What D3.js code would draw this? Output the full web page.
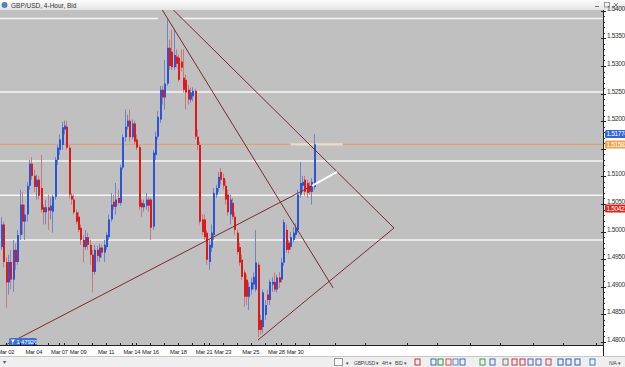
<!DOCTYPE html>
<html>
<head>
<meta charset="utf-8">
<script src="https://cdn.jsdelivr.net/npm/d3@7"></script>
<style>
html, body { margin: 0; padding: 0; background: #fff; overflow: hidden; }
svg { display: block; font-family: "Liberation Sans", Arial, sans-serif; }
</style>
</head>
<body>
<svg id="chart" width="625" height="367"></svg>
<script>
// GBP/USD 4-hour candles, [open, high, low, close]
const ohlc = [
  [1.4972,1.5026,1.4967,1.5013],[1.5013,1.5018,1.4935,1.4945],[1.4945,1.4953,1.4862,1.4908],[1.4908,1.4958,1.4886,1.4945],
  [1.4945,1.4967,1.4895,1.4913],[1.4913,1.4985,1.4891,1.4967],[1.4967,1.4978,1.4931,1.4945],[1.4945,1.5003,1.4940,1.4994],
  [1.4994,1.5076,1.4985,1.5049],[1.5049,1.5072,1.4994,1.5018],[1.5018,1.5049,1.4985,1.5031],[1.5031,1.5090,1.5018,1.5083],
  [1.5083,1.5130,1.5076,1.5123],[1.5123,1.5135,1.5094,1.5101],[1.5101,1.5112,1.5072,1.5081],[1.5081,1.5103,1.5058,1.5094],
  [1.5094,1.5101,1.5058,1.5065],[1.5079,1.5139,1.5035,1.5040],[1.5044,1.5049,1.5013,1.5035],[1.5035,1.5058,1.5013,1.5044],
  [1.5044,1.5067,1.5003,1.5038],[1.5038,1.5063,1.5022,1.5047],[1.5036,1.5067,1.4998,1.5063],[1.5063,1.5135,1.5058,1.5130],
  [1.5130,1.5157,1.5121,1.5152],[1.5148,1.5176,1.5139,1.5167],[1.5157,1.5199,1.5148,1.5189],[1.5185,1.5201,1.5176,1.5192],
  [1.5190,1.5201,1.5148,1.5152],[1.5152,1.5157,1.5060,1.5067],[1.5065,1.5070,1.5049,1.5058],[1.5058,1.5067,1.5031,1.5035],
  [1.5035,1.5040,1.5013,1.5018],[1.5027,1.5036,1.4999,1.5003],[1.5007,1.5013,1.4976,1.4985],[1.4985,1.4994,1.4944,1.4972],
  [1.4972,1.5003,1.4967,1.4990],[1.4990,1.4998,1.4967,1.4976],[1.4976,1.4985,1.4940,1.4958],[1.4958,1.4967,1.4890,1.4927],
  [1.4927,1.4976,1.4922,1.4967],[1.4967,1.4974,1.4945,1.4956],[1.4953,1.4978,1.4945,1.4971],[1.4971,1.4976,1.4953,1.4962],
  [1.4962,1.4985,1.4945,1.4976],[1.4972,1.4999,1.4967,1.4994],[1.4990,1.5031,1.4985,1.5022],[1.5022,1.5070,1.5018,1.5049],
  [1.5054,1.5067,1.5040,1.5045],[1.5045,1.5088,1.5031,1.5058],[1.5061,1.5076,1.5049,1.5052],[1.5052,1.5121,1.5047,1.5116],
  [1.5116,1.5176,1.5112,1.5171],[1.5171,1.5221,1.5163,1.5190],[1.5190,1.5212,1.5185,1.5201],[1.5201,1.5221,1.5163,1.5171],
  [1.5171,1.5203,1.5167,1.5196],[1.5196,1.5201,1.5158,1.5163],[1.5167,1.5176,1.5148,1.5152],[1.5153,1.5157,1.5040,1.5045],
  [1.5052,1.5058,1.5027,1.5044],[1.5044,1.5058,1.5036,1.5051],[1.5047,1.5070,1.5040,1.5058],[1.5058,1.5063,1.5036,1.5047],
  [1.5058,1.5061,1.4985,1.5007],[1.5009,1.5148,1.5003,1.5143],[1.5139,1.5181,1.5130,1.5172],[1.5172,1.5218,1.5167,1.5208],
  [1.5203,1.5264,1.5197,1.5257],[1.5257,1.5264,1.5230,1.5243],[1.5243,1.5311,1.5221,1.5268],[1.5268,1.5384,1.5264,1.5333],
  [1.5333,1.5348,1.5293,1.5300],[1.5326,1.5366,1.5293,1.5298],[1.5298,1.5366,1.5293,1.5320],[1.5317,1.5330,1.5297,1.5304],
  [1.5315,1.5321,1.5271,1.5275],[1.5308,1.5330,1.5290,1.5297],[1.5279,1.5330,1.5252,1.5257],[1.5275,1.5284,1.5221,1.5252],
  [1.5257,1.5266,1.5230,1.5239],[1.5239,1.5261,1.5234,1.5252],[1.5245,1.5261,1.5236,1.5255],[1.5255,1.5259,1.5167,1.5172],
  [1.5172,1.5185,1.5148,1.5157],[1.5157,1.5163,1.5013,1.5018],[1.5022,1.5031,1.4994,1.4999],[1.5022,1.5031,1.4985,1.4990],
  [1.4998,1.5003,1.4940,1.4949],[1.4945,1.4985,1.4931,1.4976],[1.4971,1.5013,1.4963,1.4998],[1.4994,1.5079,1.4985,1.5070],
  [1.5067,1.5085,1.5061,1.5079],[1.5079,1.5108,1.5072,1.5099],[1.5108,1.5115,1.5085,1.5094],[1.5097,1.5105,1.5076,1.5083],
  [1.5083,1.5094,1.5049,1.5058],[1.5067,1.5076,1.5029,1.5035],[1.5031,1.5067,1.5013,1.5058],[1.5052,1.5061,1.5022,1.5027],
  [1.5027,1.5035,1.4994,1.5003],[1.4998,1.5003,1.4958,1.4963],[1.4972,1.4980,1.4938,1.4944],[1.4949,1.4958,1.4913,1.4918],
  [1.4926,1.4931,1.4864,1.4882],[1.4913,1.4922,1.4867,1.4882],[1.4882,1.4909,1.4858,1.4900],[1.4895,1.4917,1.4886,1.4908],
  [1.4904,1.4926,1.4895,1.4918],[1.4895,1.5003,1.4891,1.4944],[1.4940,1.4945,1.4809,1.4822],[1.4840,1.4849,1.4813,1.4822],
  [1.4827,1.4895,1.4816,1.4890],[1.4849,1.4876,1.4840,1.4867],[1.4886,1.4895,1.4867,1.4876],[1.4876,1.4913,1.4867,1.4909],
  [1.4904,1.4917,1.4891,1.4909],[1.4909,1.4926,1.4891,1.4895],[1.4895,1.4922,1.4890,1.4917],[1.4917,1.4927,1.4898,1.4908],
  [1.4913,1.4953,1.4908,1.4944],[1.4944,1.5022,1.4938,1.5017],[1.5003,1.5013,1.4962,1.4967],[1.4980,1.4985,1.4960,1.4967],
  [1.4972,1.4999,1.4967,1.4990],[1.4985,1.5008,1.4980,1.4998],[1.4994,1.5015,1.4989,1.5007],[1.5003,1.5076,1.4998,1.5067],
  [1.5067,1.5126,1.5061,1.5088],[1.5083,1.5101,1.5072,1.5090],[1.5094,1.5101,1.5065,1.5072],[1.5088,1.5094,1.5061,1.5070],
  [1.5083,1.5090,1.5067,1.5072],[1.5072,1.5097,1.5049,1.5090],[1.5081,1.5177,1.5076,1.5158]
];

// time axis (candle index of each day start)
const dayLabels = ["Mar 02","Mar 04","Mar 07","Mar 09","Mar 11","Mar 14","Mar 16","Mar 18","Mar 21","Mar 23","Mar 25","Mar 28","Mar 30"];
const dayLabelIdx = [2,14,25,33,45,56,64,76,87,95,107,118,126];
const dayTickIdx = [2,8,14,20,25,27,33,39,45,51,56,58,64,70,76,82,87,89,95,101,107,113,118,120,126,132,143,156,174,187,201,214,228,241,255];

// price axis (1.515 sits under the bid tag)
const priceTicks = [1.480,1.485,1.490,1.495,1.500,1.505,1.510,1.515,1.520,1.525,1.530,1.535,1.540];
const hiddenLabels = [1.515];

// horizontal levels (white), [price, fromIdx, toIdx]
const levels = [[1.5386,-1,67.2],[1.5386,77.5,260],[1.5253,-1,260],[1.5128,-1,260],[1.5066,-1,260],[1.4985,-1,260]];
const bidPrice = 1.5158;

// trend lines [[idx, price], [idx, price]]
const trendLines = [
  [[0.79,1.4792],[133.25,1.5083]],
  [[66.4,1.5420],[142.3,1.4898]],
  [[69.4,1.5420],[168.4,1.50065]],
  [[110.1,1.48036],[168.4,1.50065]]
];
const whiteSegment = [[133.25,1.5083],[143.97,1.5108]];
const bidSegment = [[124.1,1.5158],[146.4,1.5158]];

const priceTags = [
  { text: "1.51774", value: 1.5177, color: "#3064d8" },
  { text: "1.51582", value: 1.5158, color: "#f2a24a" },
  { text: "1.50421", value: 1.5042, color: "#e3211c" }
];

const W = 625, H = 367;
const plot = { left: 0, right: 603, top: 10, bottom: 345 };

const svg = d3.select("#chart");

const x = d3.scaleLinear().domain([-0.5, 258]).range([plot.left, plot.right]);
const y = d3.scaleLinear().domain([1.48, 1.54]).range([342, 10.8]);

const defs = svg.append("defs");
defs.append("clipPath").attr("id", "plotClip")
  .append("rect").attr("x", plot.left).attr("y", plot.top)
  .attr("width", plot.right - plot.left).attr("height", plot.bottom - plot.top);

// title bar
const tg = defs.append("linearGradient").attr("id", "titleGrad")
  .attr("x1", 0).attr("x2", 0).attr("y1", 0).attr("y2", 1);
tg.append("stop").attr("offset", "0%").attr("stop-color", "#fdfdfd");
tg.append("stop").attr("offset", "100%").attr("stop-color", "#e4e4e4");
svg.append("rect").attr("x", 0).attr("y", 0).attr("width", W).attr("height", plot.top).attr("fill", "url(#titleGrad)");
svg.append("circle").attr("cx", 4.5).attr("cy", 5).attr("r", 3).attr("fill", "#5a7fb8");
svg.append("text").attr("x", 11).attr("y", 7.5).attr("font-size", 6.5).attr("fill", "#333")
  .text("GBP/USD, 4-Hour, Bid");
svg.append("line").attr("x1", 595).attr("x2", 599).attr("y1", 6.5).attr("y2", 6.5).attr("stroke", "#777");
svg.append("rect").attr("x", 604.5).attr("y", 2.5).attr("width", 5).attr("height", 4.5).attr("fill", "none").attr("stroke", "#888").attr("stroke-width", 0.8);
svg.append("path").attr("d", "M614,3 l4,4 M618,3 l-4,4").attr("stroke", "#777").attr("stroke-width", 0.9);

// plot background
svg.append("rect").attr("x", plot.left).attr("y", plot.top)
  .attr("width", plot.right - plot.left).attr("height", plot.bottom - plot.top)
  .attr("fill", "#c0c0c0");

const g = svg.append("g").attr("clip-path", "url(#plotClip)");

// horizontal levels
g.selectAll(".level").data(levels).enter().append("line")
  .attr("x1", d => x(d[1])).attr("x2", d => x(d[2]))
  .attr("y1", d => y(d[0])).attr("y2", d => y(d[0]))
  .attr("stroke", "#f6f6f6").attr("stroke-width", 1.5);

// bid line
g.append("line").attr("x1", plot.left).attr("x2", plot.right)
  .attr("y1", y(bidPrice)).attr("y2", y(bidPrice))
  .attr("stroke", "#e0a060").attr("stroke-width", 1);
g.append("line")
  .attr("x1", x(bidSegment[0][0])).attr("x2", x(bidSegment[1][0]))
  .attr("y1", y(bidSegment[0][1])).attr("y2", y(bidSegment[1][1]))
  .attr("stroke", "#ecdcc6").attr("stroke-width", 2.2);

// candles
const blue = "#2a55d8", red = "#dd1a1a";
const cg = g.append("g");
cg.selectAll(".wick").data(ohlc).enter().append("line")
  .attr("x1", (d, i) => Math.round(x(i)) + 0.5).attr("x2", (d, i) => Math.round(x(i)) + 0.5)
  .attr("y1", d => y(d[1])).attr("y2", d => y(d[2]))
  .attr("stroke", d => d[3] >= d[0] ? "#6f86c8" : "#c87a7a").attr("stroke-width", 1);
cg.selectAll(".body").data(ohlc).enter().append("rect")
  .attr("x", (d, i) => Math.round(x(i)))
  .attr("width", 2)
  .attr("y", d => y(Math.max(d[0], d[3])))
  .attr("height", d => Math.max(1, Math.abs(y(d[0]) - y(d[3]))))
  .attr("fill", d => d[3] >= d[0] ? blue : red);

// trend lines
g.selectAll(".trend").data(trendLines).enter().append("line")
  .attr("x1", d => x(d[0][0])).attr("y1", d => y(d[0][1]))
  .attr("x2", d => x(d[1][0])).attr("y2", d => y(d[1][1]))
  .attr("stroke", "#7d2a2e").attr("stroke-width", 1);
g.append("line")
  .attr("x1", x(whiteSegment[0][0])).attr("y1", y(whiteSegment[0][1]))
  .attr("x2", x(whiteSegment[1][0])).attr("y2", y(whiteSegment[1][1]))
  .attr("stroke", "#ffffff").attr("stroke-width", 2);

// right price axis
svg.append("rect").attr("x", plot.right).attr("y", plot.top).attr("width", W - plot.right).attr("height", H - plot.top).attr("fill", "#fff");
const ax = svg.append("g");
ax.append("line").attr("x1", plot.right + 0.5).attr("x2", plot.right + 0.5)
  .attr("y1", plot.top).attr("y2", H).attr("stroke", "#222");
ax.selectAll(".minor").data(d3.range(1.480, 1.5405, 0.001)).enter().append("line")
  .attr("x1", plot.right).attr("x2", plot.right + 2)
  .attr("y1", d => Math.round(y(d)) + 0.5).attr("y2", d => Math.round(y(d)) + 0.5)
  .attr("stroke", "#333");
ax.selectAll(".major").data(priceTicks).enter().append("line")
  .attr("x1", plot.right - 2).attr("x2", plot.right + 3)
  .attr("y1", d => Math.round(y(d)) + 0.5).attr("y2", d => Math.round(y(d)) + 0.5)
  .attr("stroke", "#222");
ax.selectAll(".plabel").data(priceTicks.filter(d => !hiddenLabels.includes(d))).enter().append("text")
  .attr("x", plot.right + 4).attr("y", d => y(d))
  .attr("font-size", 6.5).attr("letter-spacing", -0.35).attr("fill", "#333")
  .text(d => d.toFixed(5));

// price tags
const tags = svg.selectAll(".tag").data(priceTags).enter().append("g");
tags.append("rect").attr("x", plot.right + 2).attr("y", d => y(d.value) - 4)
  .attr("width", 24).attr("height", 8).attr("rx", 1.5).attr("fill", d => d.color);
tags.append("text").attr("x", plot.right + 3.5).attr("y", d => y(d.value) + 2.4)
  .attr("font-size", 6.5).attr("letter-spacing", -0.35).attr("fill", "#fff").text(d => d.text);

// trend line start tag
const st = trendLines[0][0];
const startTag = svg.append("g");
startTag.append("rect").attr("x", x(st[0]) + 6).attr("y", y(st[1]) - 8.5)
  .attr("width", 28).attr("height", 8).attr("rx", 1.5).attr("fill", "#3a70d8");
startTag.append("text").attr("x", x(st[0]) + 13.5).attr("y", y(st[1]) - 2.3)
  .attr("font-size", 6).attr("letter-spacing", -0.2).attr("fill", "#fff").text(st[1].toFixed(5));
startTag.append("path").attr("d", `M${x(st[0]) + 8},${y(st[1]) - 7} h4 l-2,3 v2 h-0.5 v-2 z`).attr("fill", "#fff");

// bottom time axis
svg.append("rect").attr("x", 0).attr("y", plot.bottom).attr("width", plot.right).attr("height", 11).attr("fill", "#fff");
svg.append("line").attr("x1", 0).attr("x2", plot.right).attr("y1", plot.bottom + 0.5).attr("y2", plot.bottom + 0.5).attr("stroke", "#222");
svg.selectAll(".xtick").data(dayTickIdx).enter().append("line")
  .attr("x1", d => Math.round(x(d)) + 0.5).attr("x2", d => Math.round(x(d)) + 0.5)
  .attr("y1", plot.bottom - 2).attr("y2", plot.bottom + 1)
  .attr("stroke", "#222");
svg.selectAll(".xlabel").data(dayLabels).enter().append("text")
  .attr("x", (d, i) => x(dayLabelIdx[i])).attr("y", plot.bottom + 8.5)
  .attr("text-anchor", "middle").attr("font-size", 5.8).attr("letter-spacing", -0.2).attr("fill", "#222")
  .text(d => d);

// toolbar
const tb = svg.append("g");
tb.append("rect").attr("x", 0).attr("y", 356).attr("width", W).attr("height", 11).attr("fill", "#efefef");
tb.append("line").attr("x1", 0).attr("x2", W).attr("y1", 356.5).attr("y2", 356.5).attr("stroke", "#c8c8c8");
tb.append("text").attr("x", 3).attr("y", 364).attr("font-size", 5.5).attr("fill", "#555").text("▾");
tb.append("rect").attr("x", 334.5).attr("y", 358.5).attr("width", 8).attr("height", 7).attr("fill", "#fafafa").attr("stroke", "#999");
const tbText = [["▾", 346], ["GBP/USD ▾", 354], ["4H ▾", 382], ["BID ▾", 395], ["N/A ▾", 609]];
tb.selectAll(".tbt").data(tbText).enter().append("text")
  .attr("x", d => d[1]).attr("y", 364.5).attr("font-size", 5).attr("letter-spacing", -0.2).attr("fill", "#444").text(d => d[0]);
const tbIcons = [[415, "#d23030"], [431, "#3a6fb8"], [438, "#2e9a3a"], [446, "#e05050"], [453, "#5a8ad0"], [460, "#3a6fb8"],
  [480, "#3aa04a"], [490, "#3a6fb8"], [503, "#777"], [512, "#d03040"], [520, "#d03040"], [528, "#5060c0"], [536, "#5060c0"], [546, "#c04060"],
  [558, "#3060c0"], [566, "#3060c0"], [575, "#3060c0"], [590, "#3a7fd0"]];
tb.selectAll(".tbi").data(tbIcons).enter().append("rect")
  .attr("x", d => d[0]).attr("y", 359).attr("width", 5).attr("height", 6)
  .attr("fill", "none").attr("stroke", d => d[1]).attr("stroke-width", 1);
</script>
</body>
</html>
